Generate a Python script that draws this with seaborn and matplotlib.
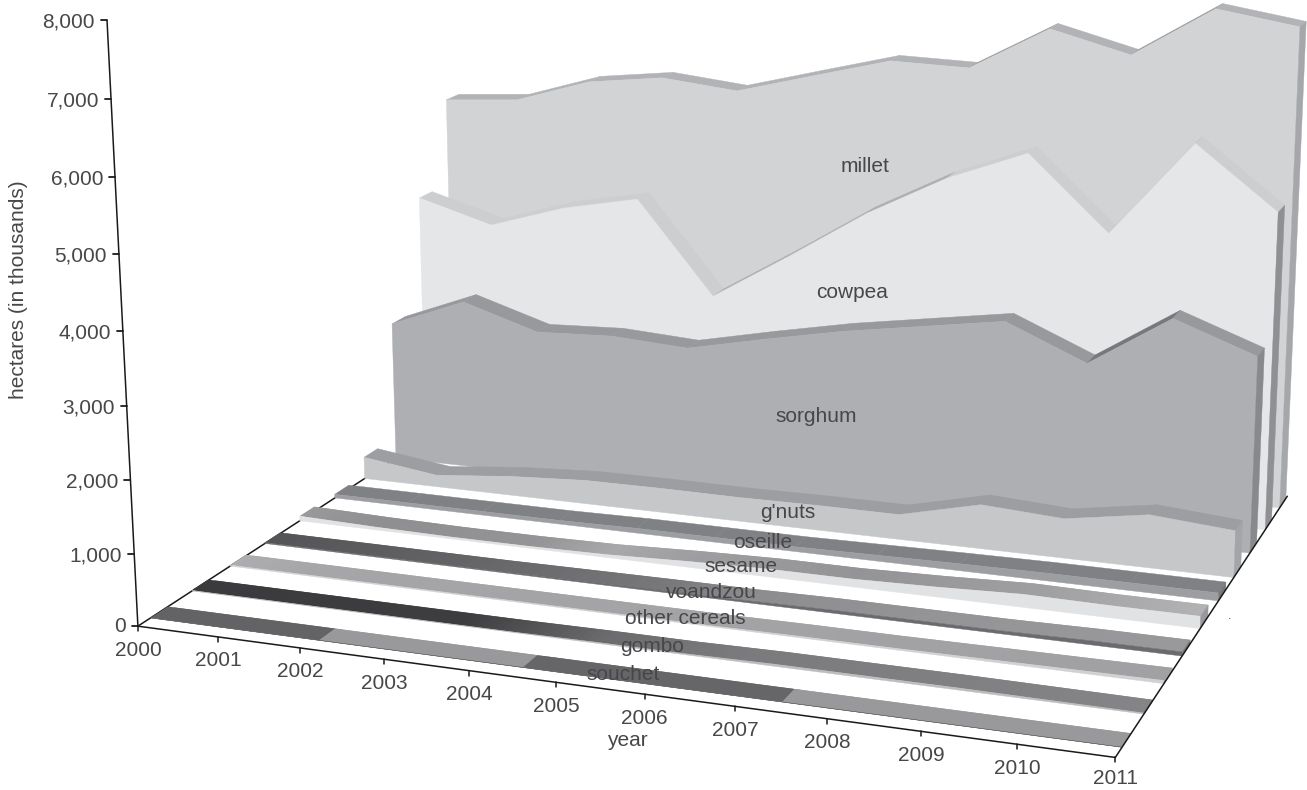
import numpy as np
import pandas as pd
import matplotlib
matplotlib.use("Agg")
import matplotlib.pyplot as plt
import seaborn as sns

# Area under cultivation by crop, thousands of hectares
years = list(range(2000, 2012))
millet = [5127, 5204, 5557, 5692, 5569, 5869, 6164, 6133, 6771, 6464, 7189, 7001]
cowpea = [3812, 3484, 3837, 4064, 2685, 3390, 4125, 4729, 5176, 4110, 5484, 4596]
sorghum = [2106, 2551, 2196, 2242, 2169, 2412, 2638, 2818, 2997, 2499, 3250, 2820]
gnuts = [329, 176, 287, 353, 360, 354, 366, 364, 641, 570, 760, 666]
oseille = [55, 55, 55, 55, 70, 70, 70, 85, 100, 110, 110, 110]
sesame = [70, 42, 28, 28, 42, 84, 112, 112, 140, 182, 168, 168]
voandzou = [14, 14, 14, 14, 21, 28, 28, 42, 42, 42, 56, 56]
other_cereals = [14, 14, 14, 14, 14, 14, 14, 21, 21, 28, 35, 42]
gombo = [7, 7, 7, 7, 7, 14, 14, 28, 28, 28, 21, 14]
souchet = [2, 2, 2, 2, 2, 2, 2, 2, 2, 2, 2, 2]

value_ticks = [0, 1000, 2000, 3000, 4000, 5000, 6000, 7000, 8000]
tick_labels = ["0", "1,000", "2,000", "3,000", "4,000", "5,000", "6,000", "7,000", "8,000"]

# Ribbon style, back row first:
# name, values, front depth, front, side, top (falling or gentle), top (steep rise), top ramp
ribbons = [
    ("millet", millet, 9.03, "#d2d3d5", "#a6a7aa", "#b2b3b6", "#9c9da0", None),
    ("cowpea", cowpea, 8.07, "#e5e6e8", "#8f9093", "#cdced0", "#aeafb2", None),
    ("sorghum", sorghum, 7.10, "#aeafb2", "#88898c", "#98999c", "#77787b", None),
    ("g'nuts", gnuts, 6.12, "#c6c7c9", "#a4a5a8", "#9d9ea1", "#9d9ea1", None),
    ("oseille", oseille, 5.22, "#9d9ea1", "#77787b", "#808184", "#808184", None),
    ("sesame", sesame, 4.20, "#e1e2e4", "#98999c", None, None,
     [(0, .60), (1, .56), (3, .58), (4, .66), (5, .62), (7, .58), (9, .62), (11, .70)]),
    ("voandzou", voandzou, 3.23, "#6a6b6e", "#77787b", None, None,
     [(0, .33), (2, .38), (5, .47), (6, .55), (8, .58), (11, .60)]),
    ("other cereals", other_cereals, 2.30, "#d0d1d3", "#a0a1a3", None, None,
     [(0, .68), (1, .65), (11, .63)]),
    ("gombo", gombo, 1.32, "#bcbdbf", "#7a7b7d", None, None,
     [(0, .23), (3.3, .24), (5, .42), (6.5, .48), (11, .52)]),
    ("souchet", souchet, 0.30, "#666769", "#98999c", None, None,
     [(0, .39), (2.1, .39), (2.1, .60), (4.5, .60), (4.5, .40), (7.4, .40), (7.4, .60), (11, .60)]),
]
ribbon_depth = 0.42
depth_extent = 9.55
steep_rise = 500

# Pixel positions of the crop labels
crop_labels = [
    ("millet", 865, 167), ("cowpea", 852, 293), ("sorghum", 816, 416),
    ("g'nuts", 788, 512), ("oseille", 763, 542), ("sesame", 741, 567),
    ("voandzou", 711, 593), ("other cereals", 685, 619),
    ("gombo", 652, 646), ("souchet", 623, 675),
]

# Camera fit: known (year index, depth, value) positions against canvas pixels
front_tick_px = [136, 218, 300, 384, 470, 557, 646, 737, 829, 922, 1017, 1115]
value_tick_px = [625, 555, 481, 406, 331, 256, 178, 101, 22]
anchors = [((i, 0, 0), (x, 625 + (x - 136) * 132 / 979)) for i, x in enumerate(front_tick_px)]
anchors += [((0, 0, v), (136 - (625 - y) * 28 / 603, y)) for v, y in zip(value_ticks, value_tick_px)]
anchors += [((11, 10, 0), (1291, 494)), ((0, 10, 0), (485, 400)), ((11, 10, 6800), (1313, 23))]

rows, rhs = [], []
for (X, Y, Z), (u, v) in anchors:
    rows.append([X, Y, Z / 1000, 1, 0, 0, 0, 0, -u * X, -u * Y, -u * Z / 1000])
    rhs.append(u)
    rows.append([0, 0, 0, 0, X, Y, Z / 1000, 1, -v * X, -v * Y, -v * Z / 1000])
    rhs.append(v)
fit = np.linalg.lstsq(np.array(rows, float), np.array(rhs, float), rcond=None)[0]
camera = np.r_[fit, 1.0].reshape(3, 4)


def project(year, depth, value):
    year, depth, value = np.broadcast_arrays(
        np.asarray(year, float), np.asarray(depth, float), np.asarray(value, float) / 1000)
    pts = np.stack([year, depth, value, np.ones_like(year)])
    h = camera @ pts.reshape(4, -1)
    return (h[:2] / h[2]).T


sns.set_theme(style="white")
plt.rcParams["font.family"] = ["Liberation Sans", "DejaVu Sans"]
TEXT = "#47474a"
LINE = "#1a1a1a"
FS = 15

fig = plt.figure(figsize=(13.07, 7.9), dpi=100)
ax = fig.add_axes([0, 0, 1, 1])


def axis_line(a, b, z=1):
    pts = project(*zip(a, b))
    frame = pd.DataFrame({"x": pts[:, 0], "y": pts[:, 1]})
    sns.lineplot(data=frame, x="x", y="y", ax=ax, color=LINE, lw=1.1,
                 sort=False, estimator=None, zorder=z)


# Floor edges and value axis; the right floor edge stays in front of the ribbons
last = len(years) - 1
axis_line((0, 0, 0), (last, 0, 0))
axis_line((0, 0, 0), (0, depth_extent, 0))
axis_line((0, 0, 0), (0, 0, 8000))
axis_line((last, 0, 0), (last, depth_extent, 0), z=40)

for i, year in enumerate(years):
    x, y = project(i, 0, 0)[0]
    ax.plot([x, x], [y, y + 5], color=LINE, lw=1.1, zorder=1)
    ax.text(x, y + (24 if i < last else 21), str(year), ha="center", va="center",
            fontsize=FS, color=TEXT)
for v, lab in zip(value_ticks, tick_labels):
    x, y = project(0, 0, v)[0]
    ax.plot([x - 6, x], [y, y], color=LINE, lw=1.3, zorder=1)
    ax.text(x - 12, y + (2 if v else 0), lab, ha="right", va="center", fontsize=FS, color=TEXT)


def ramp_grey(stops, t):
    t_s, g_s = zip(*stops)
    g = float(np.interp(t, t_s, g_s))
    return (g, g, g + 0.01)


def poly(pts, color, z, edge=0.3):
    ax.fill(pts[:, 0], pts[:, 1], facecolor=color, edgecolor=color if edge else "none",
            lw=edge, zorder=z)


z = 2
for name, vals, d0, c_front, c_side, c_fall, c_rise, ramp in ribbons:
    d1 = d0 + ribbon_depth
    idx = np.arange(len(vals))
    vals = np.asarray(vals, float)

    # Top surface: plain strips per year, or overlapping slices along a grey ramp
    if ramp:
        ts = np.linspace(0, last, 12 * last + 1)
        vs = np.interp(ts, idx, vals)
        for j in range(len(ts) - 1):
            tail = np.arange(j, min(j + 3, len(ts)))
            quad = np.vstack([project(ts[tail], d0, vs[tail]),
                              project(ts[tail][::-1], d1, vs[tail][::-1])])
            poly(quad, ramp_grey(ramp, (ts[j] + ts[j + 1]) / 2), z, edge=0)
    else:
        for i in idx[:-1]:
            quad = np.vstack([project(i, d0, vals[i]), project(i + 1, d0, vals[i + 1]),
                              project(i + 1, d1, vals[i + 1]), project(i, d1, vals[i])])
            poly(quad, c_rise if vals[i + 1] - vals[i] > steep_rise else c_fall, z)

    # Front wall and right-hand end wall
    front = np.vstack([project(idx, d0, vals), project(idx[::-1], d0, 0 * idx)])
    poly(front, c_front, z + 1)
    side = np.vstack([project(last, d0, 0), project(last, d0, vals[-1]),
                      project(last, d1, vals[-1]), project(last, d1, 0)])
    poly(side, c_side, z + 1)
    z += 2

# Crop names sit on top of the ribbons
for name, x, y in crop_labels:
    ax.text(x, y, name, ha="center", va="center", fontsize=FS, color=TEXT, zorder=50)

ax.text(627, 741, "year", ha="center", va="center", fontsize=FS, color=TEXT, zorder=50)
ax.text(19, 290, "hectares (in thousands)", rotation=90, ha="center", va="center",
        fontsize=FS, color=TEXT)
ax.text(1230, 616, ".", ha="center", va="center", fontsize=9, color=TEXT)

ax.set_xlim(0, 1307)
ax.set_ylim(790, 0)
ax.set_xlabel("")
ax.set_ylabel("")
ax.axis("off")

fig.savefig("out.png", dpi=100, facecolor="white")
